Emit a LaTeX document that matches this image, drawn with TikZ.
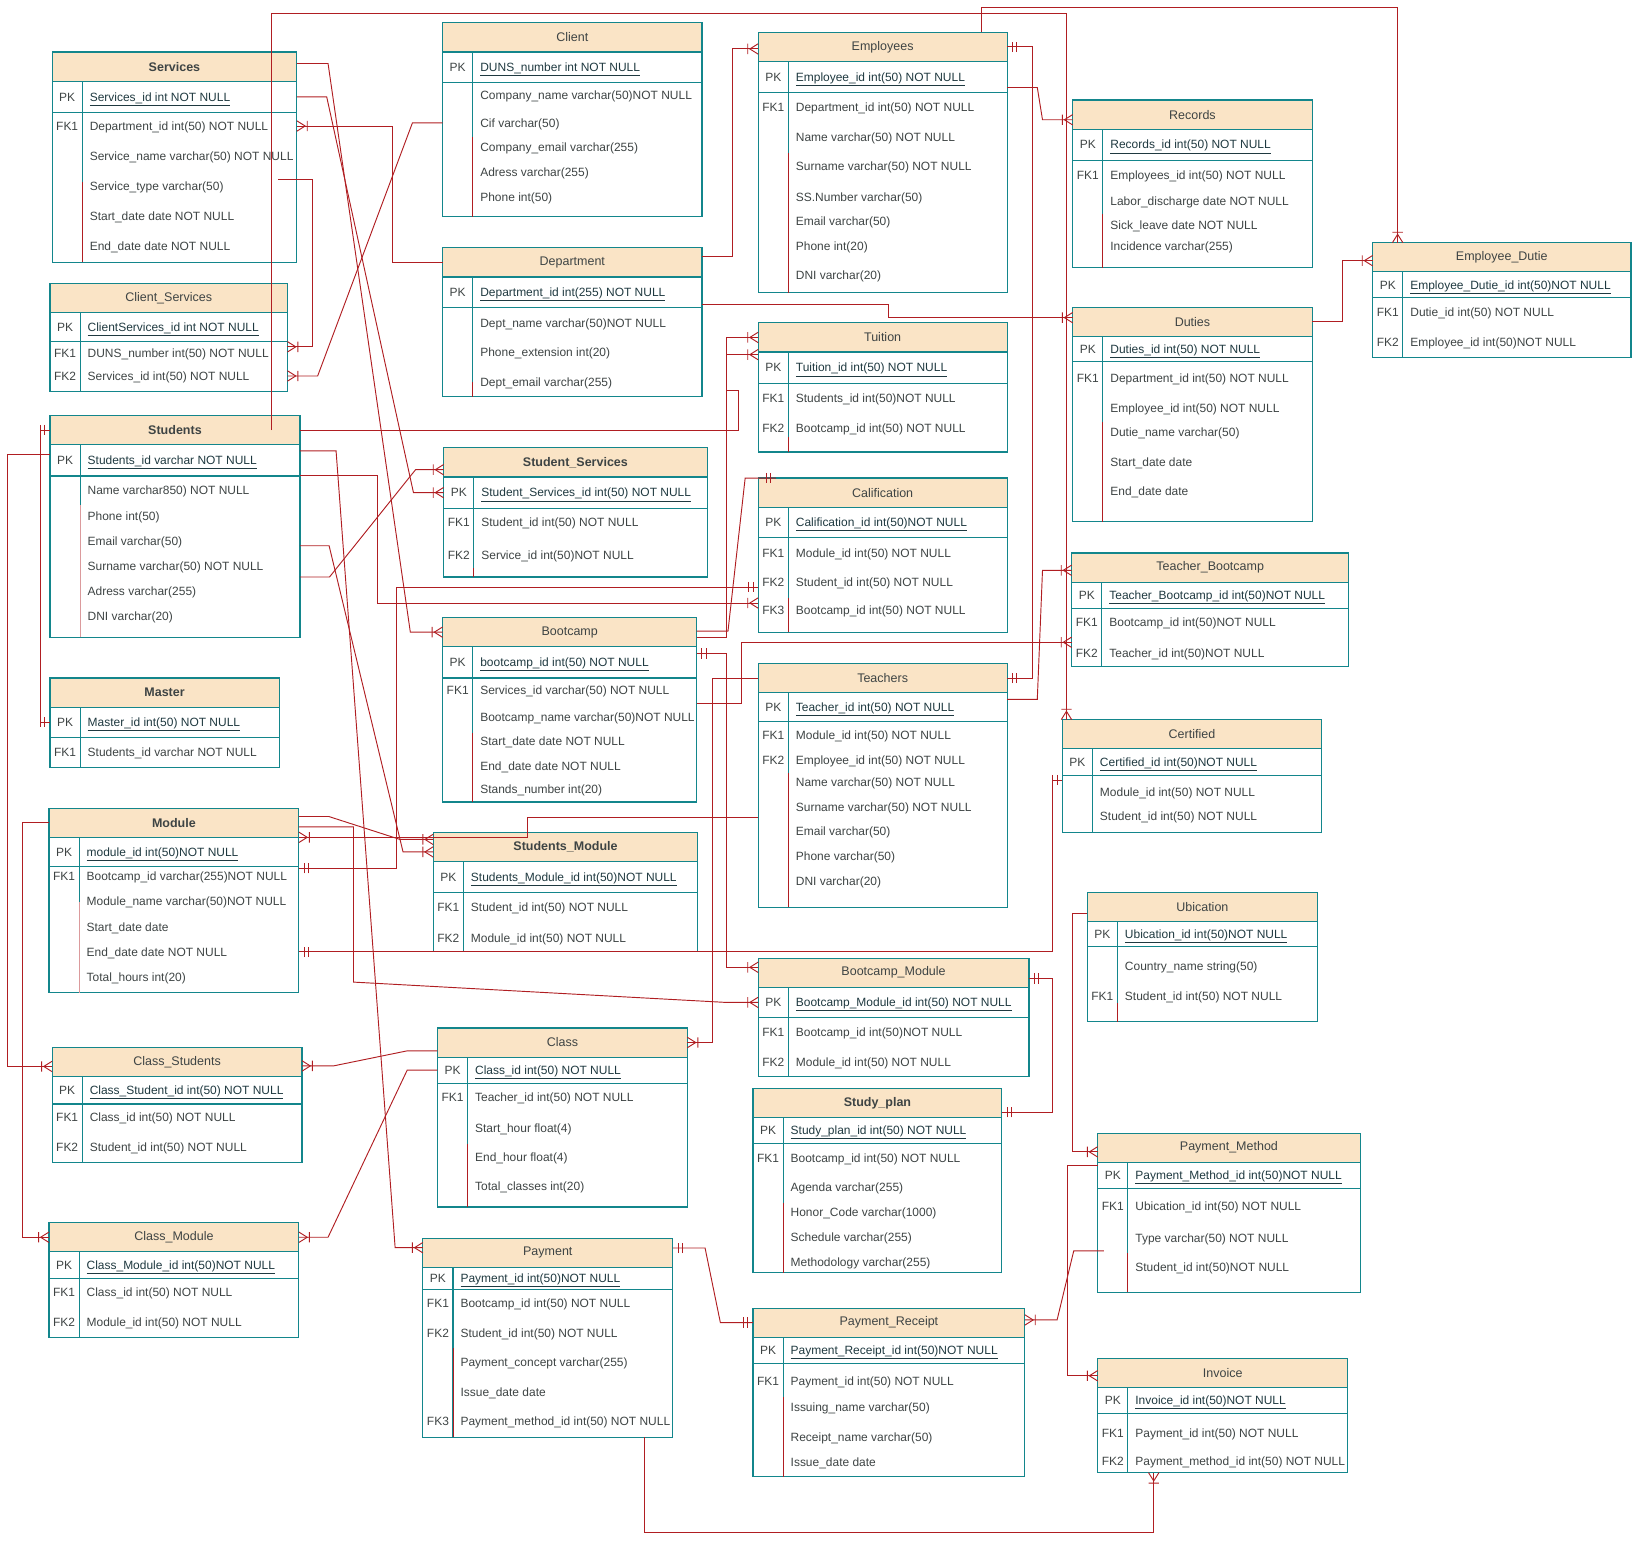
\documentclass[tikz,border=0pt]{standalone}
\usepackage{fontspec}
\setmainfont{Liberation Sans}

\definecolor{hdrfill}{HTML}{FAE4C6}
\definecolor{tealline}{HTML}{13868C}
\definecolor{relred}{HTML}{B01E22}
\definecolor{txtgray}{HTML}{3E4444}
\definecolor{pkgray}{HTML}{1F3940}

\pgfarrowsdeclare{crow}{crow}
{\pgfarrowsleftextend{-11pt}\pgfarrowsrightextend{0pt}}
{\pgfsetdash{}{0pt}
 \pgfpathmoveto{\pgfpoint{0pt}{5pt}}
 \pgfpathlineto{\pgfpoint{-8pt}{0pt}}
 \pgfpathlineto{\pgfpoint{0pt}{-5pt}}
 \pgfpathmoveto{\pgfpoint{-10pt}{5pt}}
 \pgfpathlineto{\pgfpoint{-10pt}{-5pt}}
 \pgfusepathqstroke}

\pgfarrowsdeclare{mone}{mone}
{\pgfarrowsleftextend{-10pt}\pgfarrowsrightextend{0pt}}
{\pgfsetdash{}{0pt}
 \pgfpathmoveto{\pgfpoint{-5pt}{5pt}}
 \pgfpathlineto{\pgfpoint{-5pt}{-5pt}}
 \pgfpathmoveto{\pgfpoint{-9pt}{5pt}}
 \pgfpathlineto{\pgfpoint{-9pt}{-5pt}}
 \pgfusepathqstroke}

\tikzset{
  hdr/.style={fill=hdrfill},
  tbl/.style={draw=tealline, line width=1.1pt},
  ttl/.style={inner sep=0pt, outer sep=0pt, minimum height=28pt, text=txtgray, font=\fontsize{12}{14}\selectfont},
  rowbox/.style={inner sep=0pt, outer sep=0pt, minimum height=14pt},
  keytxt/.style={inner sep=0pt, text=txtgray, text height=10pt, text depth=2pt, font=\fontsize{11.5}{13}\selectfont},
  rowtxt/.style={keytxt, anchor=west},
  pktxt/.style={rowtxt, text=pkgray},
  rel/.style={draw=relred, line width=0.9pt},
}

% name, left, top, right, key row bottom, bottom, title, primary key, rows y/key/text
\newcommand{\ertable}[9]{%
  \fill[hdr] (#2,#3) rectangle (#4,#3+28);
  \draw[tbl] (#2,#3) rectangle (#4,#6);
  \draw[tbl] (#2,#3+28) -- (#4,#3+28) (#2,#5) -- (#4,#5) (#2+29,#3+28) -- (#2+29,#6);
  \node[rowbox, minimum width={(#4-#2)*1pt}, minimum height={(#6-#3)*1pt}] (#1-box) at ({(#2+#4)/2},{(#3+#6)/2}) {};
  \node[ttl, minimum width={(#4-#2)*1pt}] (#1) at ({(#2+#4)/2},#3+14) {#7};
  \node[rowbox, minimum width={(#4-#2)*1pt}] (#1-pk) at ({(#2+#4)/2},{(#3+28+#5)/2}) {};
  \node[keytxt] (#1-pkk) at (#2+14.5,{(#3+28+#5)/2}) {PK};
  \node[pktxt] (#1-pkt) at (#2+36,{(#3+28+#5)/2}) {\underline{#8}};
  \foreach \ry/\rk/\rt [count=\i] in {#9} {
    \node[rowbox, minimum width={(#4-#2)*1pt}] (#1-\i) at ({(#2+#4)/2},\ry) {};
    \node[keytxt] (#1-k\i) at (#2+14.5,\ry) {\rk};
    \node[rowtxt] (#1-t\i) at (#2+36,\ry) {\rt};
  }
  \coordinate (#1-kb) at (#2+29,#6);
}
\newcommand{\keyred}[3][relred]{\draw[draw=#1, line width=1pt] (#2-kb) -- ++(0,-#3);}

\begin{document}
\begin{tikzpicture}[x=1pt, y=-1pt]
\useasboundingbox (0,0) rectangle (1568,1480);

\ertable{services}{50}{50}{285}{108}{252}{\textbf{Services}}{Services\_id int NOT NULL}
  {121/FK1/Department\_id int(50) NOT NULL, 150//Service\_name varchar(50) NOT NULL, 179//Service\_type varchar(50), 208//Start\_date date NOT NULL, 237//End\_date date NOT NULL}
\ertable{clientsrv}{48}{272}{276}{328}{376}{Client\_Services}{ClientServices\_id int NOT NULL}
  {339/FK1/DUNS\_number int(50) NOT NULL, 361/FK2/Services\_id int(50) NOT NULL}
\ertable{client}{425}{22}{674}{79}{208}{Client}{DUNS\_number int NOT NULL}
  {92//Company\_name varchar(50)NOT NULL, 118//Cif varchar(50), 141//Company\_email varchar(255), 165//Adress varchar(255), 189//Phone int(50)}
\ertable{dept}{425}{238}{674}{295}{381}{Department}{Department\_id int(255) NOT NULL}
  {310//Dept\_name varchar(50)NOT NULL, 338//Phone\_extension int(20), 367//Dept\_email varchar(255)}
\ertable{employees}{728}{31}{967}{89}{281}{Employees}{Employee\_id int(50) NOT NULL}
  {103/FK1/Department\_id int(50) NOT NULL, 132//Name varchar(50) NOT NULL, 160//Surname varchar(50) NOT NULL, 189//SS.Number varchar(50), 213//Email varchar(50), 237//Phone int(20), 264//DNI varchar(20)}
\ertable{records}{1030}{96}{1260}{154}{257}{Records}{Records\_id int(50) NOT NULL}
  {168/FK1/Employees\_id int(50) NOT NULL, 193//Labor\_discharge date NOT NULL, 216//Sick\_leave date NOT NULL, 237//Incidence varchar(255)}
\ertable{empduty}{1318}{233}{1566}{286}{343}{Employee\_Dutie}{Employee\_Dutie\_id int(50)NOT NULL}
  {300/FK1/Dutie\_id int(50) NOT NULL, 329/FK2/Employee\_id int(50)NOT NULL}
\ertable{duties}{1030}{295}{1260}{347}{501}{Duties}{Duties\_id int(50) NOT NULL}
  {363/FK1/Department\_id int(50) NOT NULL, 392//Employee\_id int(50) NOT NULL, 415//Dutie\_name varchar(50), 444//Start\_date date, 472//End\_date date}
\ertable{tuition}{728}{310}{967}{368}{434}{Tuition}{Tuition\_id int(50) NOT NULL}
  {382/FK1/Students\_id int(50)NOT NULL, 411/FK2/Bootcamp\_id int(50) NOT NULL}
\ertable{students}{48}{399}{288}{457}{612}{\textbf{Students}}{Students\_id varchar NOT NULL}
  {471//Name varchar850) NOT NULL, 496//Phone int(50), 520//Email varchar(50), 544//Surname varchar(50) NOT NULL, 568//Adress varchar(255), 592//DNI varchar(20)}
\ertable{studsrv}{426}{430}{679}{488}{554}{\textbf{Student\_Services}}{Student\_Services\_id int(50) NOT NULL}
  {502/FK1/Student\_id int(50) NOT NULL, 533/FK2/Service\_id int(50)NOT NULL}
\ertable{calif}{728}{459}{967}{516}{607}{Calification}{Calification\_id int(50)NOT NULL}
  {531/FK1/Module\_id int(50) NOT NULL, 559/FK2/Student\_id int(50) NOT NULL, 586/FK3/Bootcamp\_id int(50) NOT NULL}
\ertable{tbc}{1029}{531}{1295}{584}{640}{Teacher\_Bootcamp}{Teacher\_Bootcamp\_id int(50)NOT NULL}
  {598/FK1/Bootcamp\_id int(50)NOT NULL, 627/FK2/Teacher\_id int(50)NOT NULL}
\ertable{master}{48}{651}{268}{708}{737}{\textbf{Master}}{Master\_id int(50) NOT NULL}
  {722/FK1/Students\_id varchar NOT NULL}
\ertable{bootcamp}{425}{593}{669}{651}{770}{Bootcamp}{bootcamp\_id int(50) NOT NULL}
  {663/FK1/Services\_id varchar(50) NOT NULL, 689//Bootcamp\_name varchar(50)NOT NULL, 712//Start\_date date NOT NULL, 736//End\_date date NOT NULL, 758//Stands\_number int(20)}
\ertable{teachers}{728}{637}{967}{693}{871}{Teachers}{Teacher\_id int(50) NOT NULL}
  {706/FK1/Module\_id int(50) NOT NULL, 730/FK2/Employee\_id int(50) NOT NULL, 751//Name varchar(50) NOT NULL, 775//Surname varchar(50) NOT NULL, 798//Email varchar(50), 822//Phone varchar(50), 846//DNI varchar(20)}
\ertable{certified}{1020}{691}{1269}{745}{799}{Certified}{Certified\_id int(50)NOT NULL}
  {761//Module\_id int(50) NOT NULL, 784//Student\_id int(50) NOT NULL}
\ertable{module}{47}{776}{287}{832}{953}{\textbf{Module}}{module\_id int(50)NOT NULL}
  {841/FK1/Bootcamp\_id varchar(255)NOT NULL, 865//Module\_name varchar(50)NOT NULL, 890//Start\_date date, 914//End\_date date NOT NULL, 938//Total\_hours int(20)}
\ertable{studmod}{416}{799}{670}{857}{914}{\textbf{Students\_Module}}{Students\_Module\_id int(50)NOT NULL}
  {871/FK1/Student\_id int(50) NOT NULL, 901/FK2/Module\_id int(50) NOT NULL}
\ertable{ubication}{1044}{857}{1265}{909}{981}{Ubication}{Ubication\_id int(50)NOT NULL}
  {928//Country\_name string(50), 957/FK1/Student\_id int(50) NOT NULL}
\ertable{bcmod}{728}{920}{988}{977}{1034}{Bootcamp\_Module}{Bootcamp\_Module\_id int(50) NOT NULL}
  {991/FK1/Bootcamp\_id int(50)NOT NULL, 1020/FK2/Module\_id int(50) NOT NULL}
\ertable{clsstud}{50}{1006}{290}{1060}{1116}{Class\_Students}{Class\_Student\_id int(50) NOT NULL}
  {1073/FK1/Class\_id int(50) NOT NULL, 1102/FK2/Student\_id int(50) NOT NULL}
\ertable{class}{420}{987}{660}{1040}{1159}{Class}{Class\_id int(50) NOT NULL}
  {1054/FK1/Teacher\_id int(50) NOT NULL, 1083//Start\_hour float(4), 1111//End\_hour float(4), 1139//Total\_classes int(20)}
\ertable{studyplan}{723}{1045}{962}{1098}{1222}{\textbf{Study\_plan}}{Study\_plan\_id int(50) NOT NULL}
  {1112/FK1/Bootcamp\_id int(50) NOT NULL, 1140//Agenda varchar(255), 1164//Honor\_Code varchar(1000), 1188//Schedule varchar(255), 1212//Methodology varchar(255)}
\ertable{paymethod}{1054}{1088}{1306}{1141}{1241}{Payment\_Method}{Payment\_Method\_id int(50)NOT NULL}
  {1158/FK1/Ubication\_id int(50) NOT NULL, 1189//Type varchar(50) NOT NULL, 1217//Student\_id int(50)NOT NULL}
\ertable{clsmod}{47}{1174}{287}{1228}{1284}{Class\_Module}{Class\_Module\_id int(50)NOT NULL}
  {1241/FK1/Class\_id int(50) NOT NULL, 1270/FK2/Module\_id int(50) NOT NULL}
\ertable{payment}{406}{1189}{646}{1238}{1380}{Payment}{Payment\_id int(50)NOT NULL}
  {1251/FK1/Bootcamp\_id int(50) NOT NULL, 1280/FK2/Student\_id int(50) NOT NULL, 1308//Payment\_concept varchar(255), 1337//Issue\_date date, 1365/FK3/Payment\_method\_id int(50) NOT NULL}
\ertable{receipt}{723}{1256}{984}{1309}{1418}{Payment\_Receipt}{Payment\_Receipt\_id int(50)NOT NULL}
  {1326/FK1/Payment\_id int(50) NOT NULL, 1351//Issuing\_name varchar(50), 1380//Receipt\_name varchar(50), 1404//Issue\_date date}
\ertable{invoice}{1054}{1304}{1294}{1357}{1414}{Invoice}{Invoice\_id int(50)NOT NULL}
  {1376/FK1/Payment\_id int(50) NOT NULL, 1403/FK2/Payment\_method\_id int(50) NOT NULL}

\keyred{services}{77} \keyred{client}{76} \keyred{dept}{14} \keyred{employees}{134}
\keyred{records}{52} \keyred{duties}{96} \keyred{tuition}{14} \keyred{calif}{33}
\keyred{bootcamp}{66} \keyred{teachers}{129} \keyred[relred!45]{students}{127}
\keyred[relred!45]{module}{87} \keyred{studsrv}{9} \keyred{class}{61}
\keyred{studyplan}{67} \keyred{payment}{86} \keyred{receipt}{77}
\keyred{ubication}{18} \keyred{paymethod}{38}

\draw[rel, -crow] ([xshift=-27pt]students.east) |- (1024,13) -- ([xshift=4pt]certified-box.north west);
\draw[rel, -crow] ([xshift=214pt]employees-box.north west) |- (1342,7) -- ([xshift=24pt]empduty-box.north west);
\draw[rel, mone-mone] (employees.east) -- ++(24,0) |- (teachers.east);
\draw[rel, -crow] ([yshift=-10pt]employees-pk.east) -- ++(29,0) -- ([xshift=-29pt,yshift=-5pt]records.west) -- ([yshift=-5pt]records.west);
\draw[rel, -crow] ([yshift=-12pt]dept-pk.east) -- ++(179,0) |- ([yshift=4pt]duties.west);
\draw[rel, -crow] ([yshift=6pt]dept.east) -- ++(29.5,0) |- ([yshift=-2pt]employees.west);
\draw[rel, -crow] (dept.west) -- ++(-48,0) |- (services-1.east);
\draw[rel, -crow] (client-2.west) -- ++(-29,0) -- ([xshift=29pt]clientsrv-2.east) -- (clientsrv-2.east);
\draw[rel, -crow] ([xshift=-18pt]services-3.north east) -- ++(33,0) |- ([yshift=6pt]clientsrv-1.east);
\draw[rel, -crow] ([yshift=3pt]services.east) -- ++(30,0) -- ([xshift=-31pt]bootcamp.west) -- (bootcamp.west);
\draw[rel, -crow] (services-pk.east) -- ++(28.7,0) -- ([xshift=-29pt]studsrv-pk.west) -- (studsrv-pk.west);
\draw[rel, -crow] ([yshift=9pt]students-pk.east) -- ++(34.7,0) -- ([xshift=-26.6pt,yshift=5pt]payment.west) -- ([yshift=5pt]payment.west);
\draw[rel, -crow] ([yshift=-4pt]students-3.east) -- ++(28,0) -- ([xshift=-29pt,yshift=-5pt]studmod.west) -- ([yshift=-5pt]studmod.west);
\draw[rel, -crow] ([yshift=-10pt]students-4.east) -- ++(28.4,0) -- ([xshift=-27pt,yshift=-7pt]studsrv.west) -- ([yshift=-7pt]studsrv.west);
\draw[rel, -crow] ([yshift=-15pt]students-pk.east) -- ++(74.5,0) |- ([yshift=7pt]calif-3.west);
\draw[rel, mone-mone] (students.west) -- ++(-9.6,0) |- (master-pk.west);
\draw[rel, -crow] ([yshift=6pt]students-pk.west) -- ++(-41,0) |- ([yshift=-4pt]clsstud.west);
\draw[rel, -crow] (module.west) -- ++(-25.3,0) |- (clsmod.west);
\draw[rel, -crow] ([yshift=-8pt]class.west) -- ++(-29,0) -- ([xshift=30pt,yshift=-3.5pt]clsstud.east) -- ([yshift=-3.5pt]clsstud.east);
\draw[rel, -crow] (class-pk.west) -- ++(-29,0) -- ([xshift=28pt]clsmod.east) -- (clsmod.east);
\draw[rel, -crow] ([yshift=-4pt]module.east) -- ++(52.4,0) -- ++(0,149) -- ([xshift=-31pt]bcmod-pk.west) -- (bcmod-pk.west);
\draw[rel, -crow] ([yshift=6pt]module.east) -- ++(28.7,0) -- ([xshift=-32pt,yshift=7pt]studmod.west) -- ([yshift=7pt]studmod.west);
\draw[rel, -crow] ([yshift=-10pt]teachers-4.west) -- ++(-222,0) |- (module.south east);
\draw[rel, mone-mone] ([yshift=7.4pt]module-1.east) -- ++(94,0) |- ([yshift=-4.6pt]calif-2.west);
\draw[rel, mone-mone] (module-4.east) -- ++(723.5,0) |- ([yshift=12pt]certified-1.west);
\draw[rel, mone-mone] ([yshift=-5.4pt]bcmod.east) -- ++(22.5,0) |- ([yshift=-9pt]studyplan.east);
\draw[rel, -crow] ([yshift=-6pt]ubication.west) -- ++(-14,0) |- ([yshift=-4pt]paymethod.west);
\draw[rel, -crow] ([yshift=9pt]paymethod-pk.west) -- ++(-29,0) |- ([yshift=-3pt]invoice.west);
\draw[rel, -crow] ([xshift=6pt,yshift=-12pt]paymethod-2.west) -- ++(-29,0) -- ([xshift=31pt,yshift=2.6pt]receipt.east) -- ([yshift=2.6pt]receipt.east);
\draw[rel, mone-mone] ([yshift=4.7pt]payment.east) -- ++(31,0) -- ([xshift=-31.3pt]receipt.west) -- (receipt.west);
\draw[rel, -crow] ([xshift=92.4pt]payment-box.south) -- ++(0,91.3) -| ([xshift=-66.2pt]invoice-box.south);
\draw[rel, -crow] (duties.east) -- ++(29.2,0) |- ([yshift=-3.3pt]empduty.west);
\draw[rel, -crow] ([yshift=-12pt]bootcamp-1.east) -- ++(43.3,0) |- ([yshift=10.3pt]tbc-2.west);
\draw[rel, -crow] ([yshift=7.5pt]teachers-pk.east) -- ++(29,0) -- ([xshift=-28pt,yshift=-2.6pt]tbc.west) -- ([yshift=-2.6pt]tbc.west);
\draw[rel, -crow] (teachers.west) -- ++(-43.6,0) |- (class.east);
\draw[rel, -mone] ([yshift=1pt]bootcamp.east) -- ++(30,0) -- ([xshift=-12.5pt]calif-box.north west) -- ([xshift=17pt]calif-box.north west);
\draw[rel, -crow] ([yshift=-5pt]bootcamp.east) -- ++(29,0) |- ([yshift=12.5pt]tuition-pk.west);
\draw[rel, -crow] (students.east) -- ++(421,0) -- ++(0,-38) -- ++(-11,0) |- (tuition.west);
\draw[rel, mone-crow] ([yshift=8.7pt]bootcamp-pk.east) -- ++(29,0) |- ([yshift=5.2pt]bcmod.west);
\end{tikzpicture}
\end{document}
